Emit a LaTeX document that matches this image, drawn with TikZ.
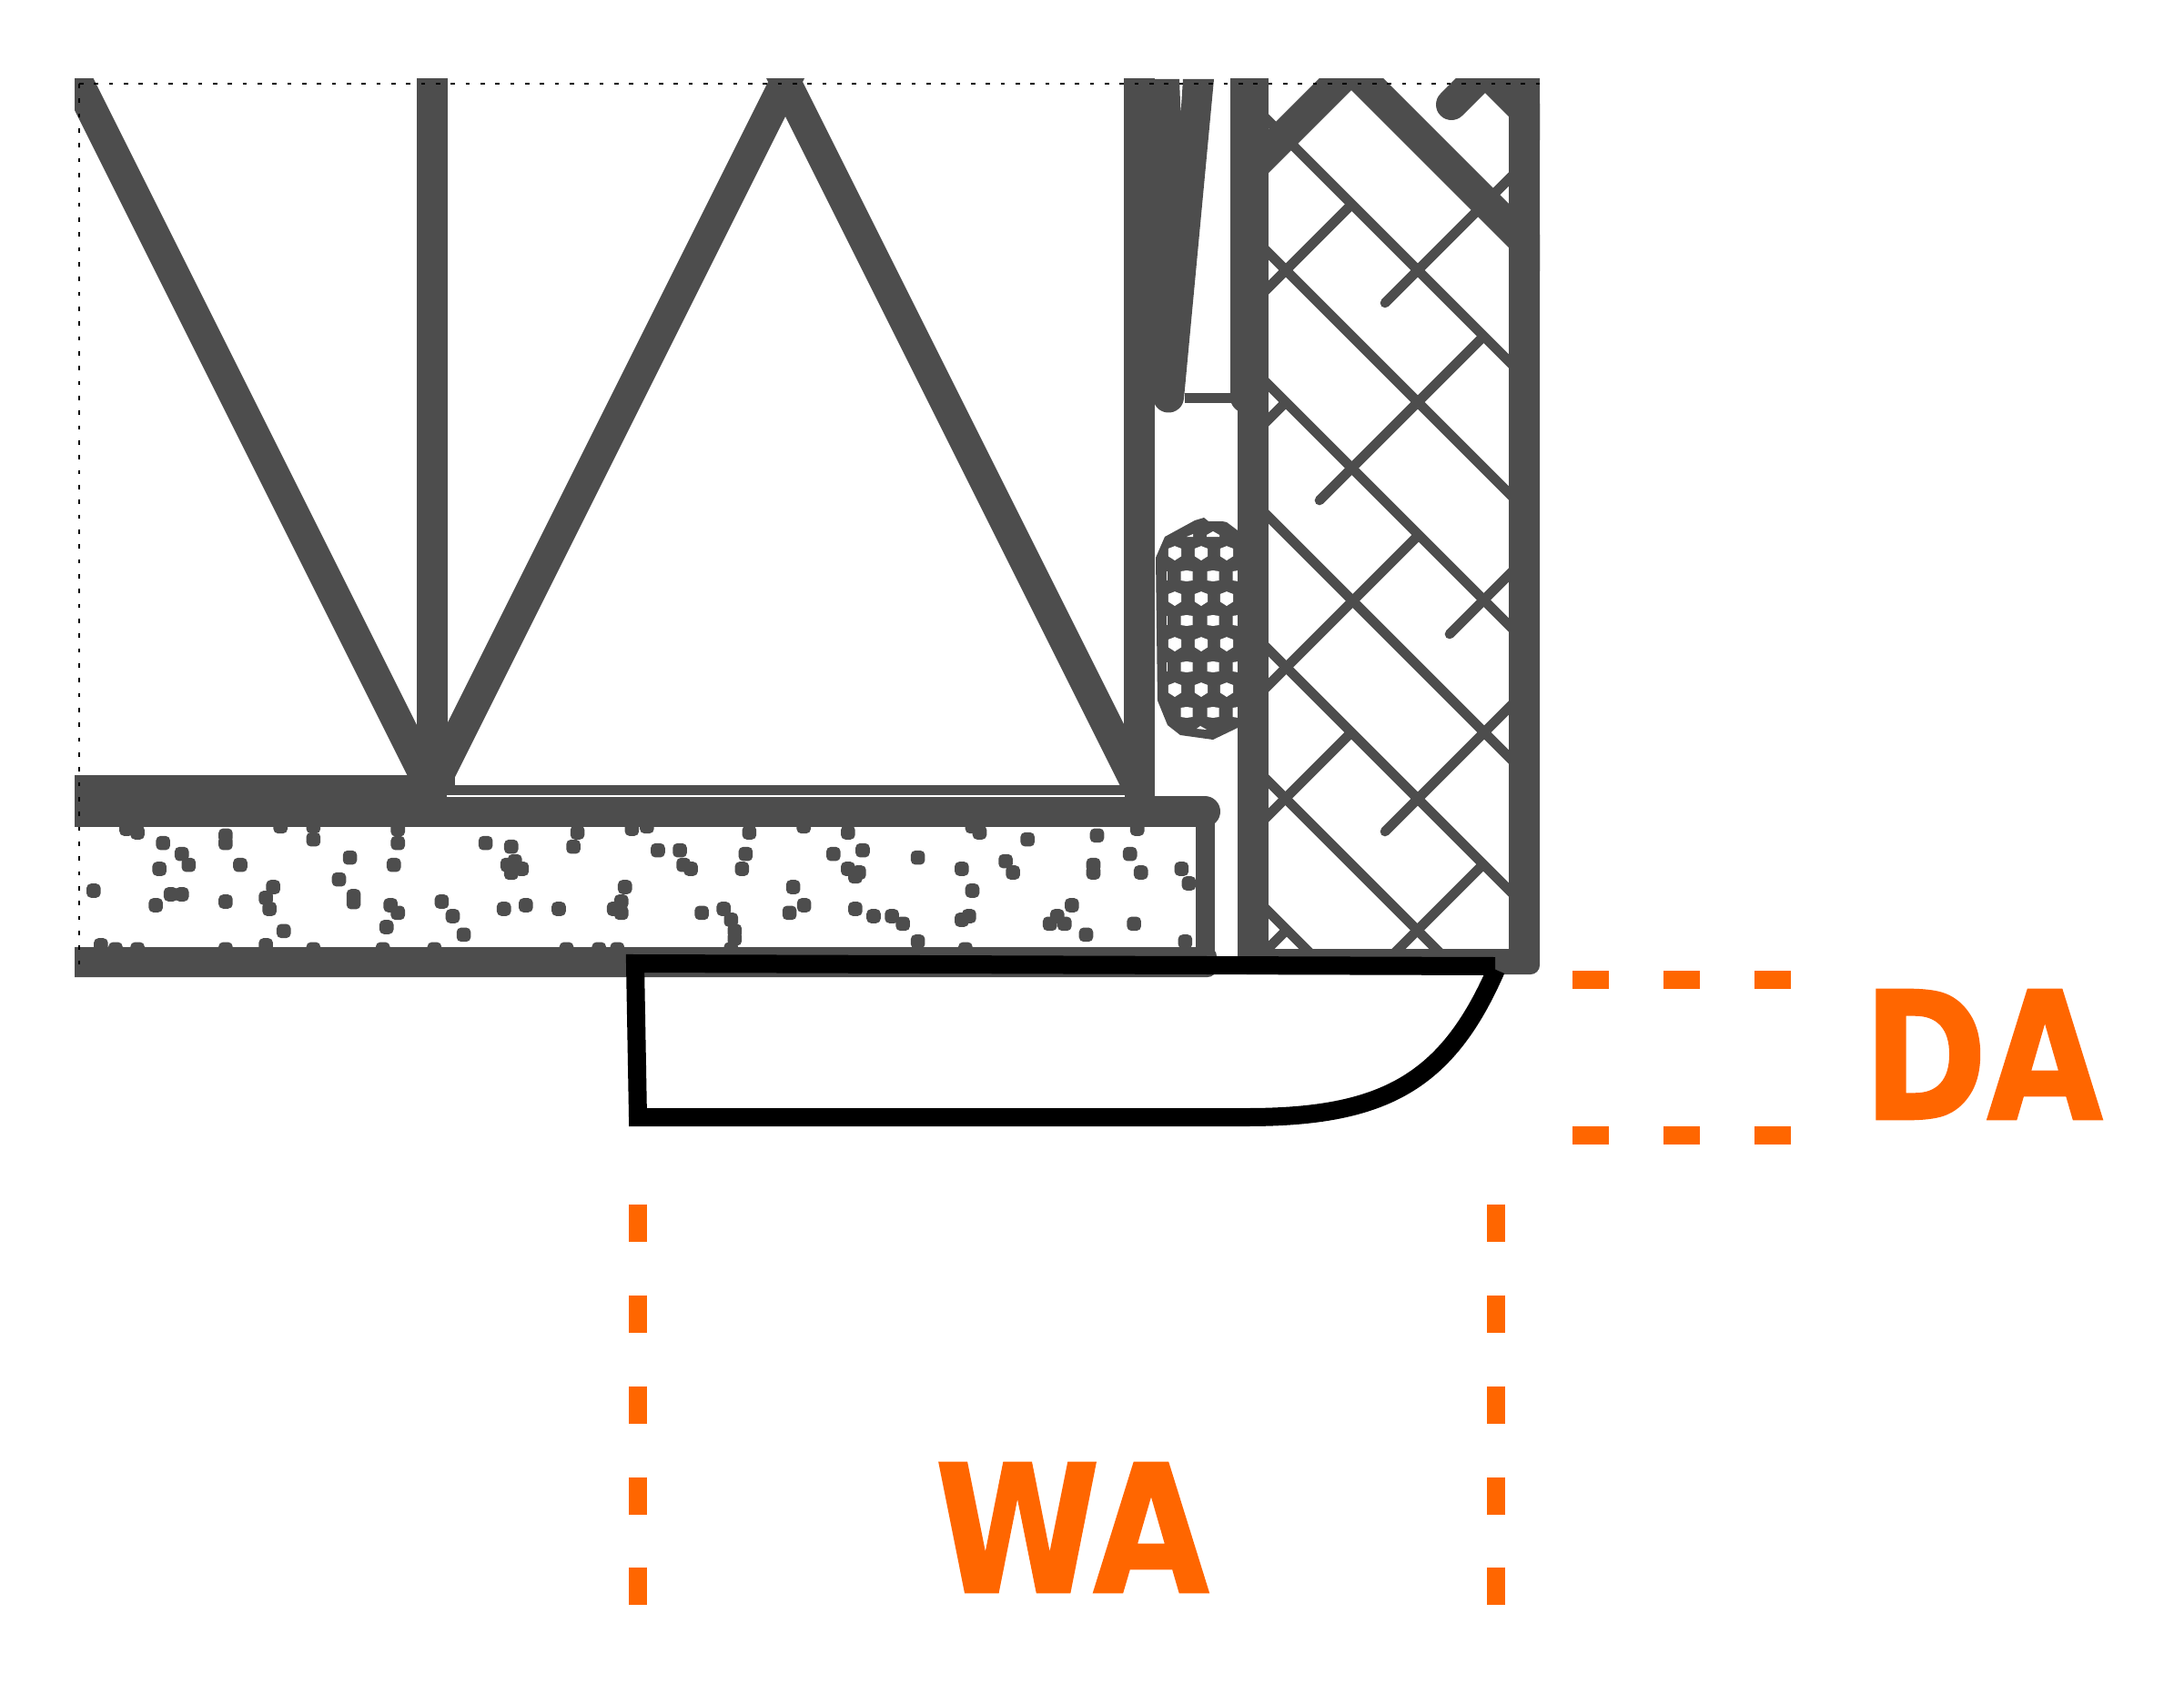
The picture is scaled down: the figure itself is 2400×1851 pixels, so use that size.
\documentclass[tikz,border=0pt]{standalone}
\usepackage{fontspec}
\newfontfamily\labfont[FakeStretch=0.84,BoldFeatures={FakeBold=1.2}]{DejaVu Sans}
\definecolor{gr}{HTML}{4D4D4D}
\definecolor{og}{HTML}{FF6600}
\tikzset{
  thick line/.style={draw=gr,line width=10.2pt},
  thin line/.style={draw=gr,line width=3.2pt,line cap=round},
  orange dash/.style={draw=og,line width=6pt},
  dot mark/.style={fill=gr,rounded corners=1.5pt},
  dotted rule/.style={draw=black,line width=0.85pt,dash pattern=on 1.4pt off 3.5pt},
  label text/.style={text=og,inner sep=0pt,font=\labfont\bfseries\fontsize{58.6pt}{58.6pt}\selectfont},
}
\begin{document}
\begin{tikzpicture}[x=0.3pt,y=-0.3pt]
\useasboundingbox (0,0) rectangle (2400,1851);
% insulation dots
\foreach \X/\Y in {177/213,204/225,267/260,313/296,330/332,258/345,421/235,421/260,457/332,556/205,637/248,637/205,727/308,700/380,736/435,736/455,845/215,845/260,835/332,1061/260,1124/272,1133/320,1115/332,1150/345,1124/358,1287/225,1277/272,96/417,286/429,313/429,249/465,421/453,538/405,520/441,529/477,564/550,817/537,827/465,845/490,953/453,980/501,1007/562,1106/477,1160/465,1241/477,114/597,150/610,204/610,421/610,520/597,637/610,808/610,935/610,1260/610,1340/610}{
  \pgfmathsetmacro\px{60+\X/2.24}\pgfmathsetmacro\py{840+\Y/3}
  \path[dot mark] (\px-7.8,\py-7.8) rectangle (\px+7.8,\py+7.8);
}
\foreach \X/\Y in {77/213,114/205,366/225,500/205,609/225,915/205,933/225,1051/248,1222/235,1321/213,141/284,195/284,204/332,222/345,357/296,348/345,573/296,645/284,609/345,636/357,627/370,781/308,889/345,997/320,1015/357,1213/332,1213/357,1303/296,1330/357,1430/345,1448/393,60/405,51/453,33/477,51/490,474/405,915/417,249/490,303/477,321/513,330/550,330/575,501/465,465/490,627/477,672/501,717/501,744/526,907/501,889/513,1160/465,1124/501,1106/526,1142/526,1195/562,1313/526,781/585,1439/585,41/610,321/610,898/610}{
  \pgfmathsetmacro\px{660+\X/2.24}\pgfmathsetmacro\py{840+\Y/3}
  \path[dot mark] (\px-7.8,\py-7.8) rectangle (\px+7.8,\py+7.8);
}
% grey construction, cut at the frame
\begin{scope}
\clip (82,87) rectangle (1692,1100);
% truss
\draw[thick line] (70.5,60) -- (470.5,860);
\draw[thick line] (475,60) -- (475,870);
\draw[thick line] (878,60) -- (478,860);
\draw[thick line] (848,60) -- (1248,860);
\fill[gr] (1235,60) -- (1269,60) -- (1269,876) -- (1235,876) -- cycle;
% wedge
\fill[gr] (1240,87) -- (1296,87) -- (1297.5,125) -- (1300,87) -- (1334,87) -- (1301,438)
  arc[start angle=5,end angle=175,radius=17,y=-1] -- (1262,87) -- cycle;
% chords
\fill[gr] (82,852) rectangle (500,909);
\fill[gr] (480,863) rectangle (1245,875);
\draw[gr,line width=10.2pt,line cap=round] (500,892) -- (1324,892);
\fill[white] (491,874.3) rectangle (1236,875.9);
\fill[gr] (1314,892) rectangle (1335,1060);
\fill[gr,rounded corners=3pt] (60,1041) -- (1337,1041) -- (1337,1074) -- (60,1074) -- cycle;
% sealant rod
\fill[gr] (1270,613) -- (1280,590) -- (1313,572) -- (1323,569) -- (1328,573) -- (1343,573) -- (1348,574) -- (1360,583) -- (1360,800) -- (1333,813) -- (1297,808) -- (1283,797) -- (1272,770) -- cycle;
\foreach \x in {1291,1320,1348}{\foreach \y in {608,658,708,758}{
  \fill[white] (\x-7.2,\y-5) -- (\x,\y-7.8) -- (\x+7.2,\y-5) -- (\x+7,\y+3.5) -- (\x,\y+8) -- (\x-7,\y+3.5) -- cycle;}}
\foreach \x in {1304,1333,1361}{\foreach \y in {633,682,733,783}{
  \fill[white] (\x-6.5,\y-5) -- (\x,\y-6) -- (\x+6.5,\y-5) -- (\x+6.5,\y+5) -- (\x,\y+6) -- (\x-6.5,\y+5) -- cycle;}}
\fill[white] (1326,588) -- (1333,584) -- (1340,588) -- (1340,590) -- (1326,590) -- cycle;
\fill[white] (1304,590) -- (1311,587) -- (1311,590) -- cycle;
\fill[white] (1315,801) -- (1319,798) -- (1326,802) -- cycle;
\foreach \y in {633,682,733}{\fill[white] (1282,\y-5) rectangle (1283,\y+5);}
% wall faces
\draw[gr,line width=10.2pt,line cap=round] (1369,60) -- (1369,437);
\fill[gr] (1360,60) rectangle (1394,1071);
\draw[gr,line width=3.3pt] (1302,437.5) -- (1355,437.5);
% hatch in the wall
\begin{scope}
\clip (1394,87) rectangle (1658,1043);
\foreach \c in {1261,1116,971,826,680,535,392}{
  \draw[thin line] (1380,1380-\c) -- (1680,1680-\c);}
\draw[thin line] (1385,325) -- (1485,225);
\draw[thin line] (1522,333) -- (1670,185);
\draw[thin line] (1385,470) -- (1413,442);
\draw[thin line] (1450,550) -- (1630,370);
\draw[thin line] (1385,762) -- (1558,589);
\draw[thin line] (1593,697) -- (1670,620);
\draw[thin line] (1385,905) -- (1485,805);
\draw[thin line] (1522,914) -- (1670,766);
\draw[thin line] (1385,1051) -- (1414,1022);
\draw[thin line] (1520,1060) -- (1630,950);
\end{scope}
\draw[thick line] (1370,190) -- (1480,80);
\draw[thick line] (1490,80) -- (1700,290);
\draw[thick line,line cap=round] (1595,115) -- (1650,60);
\draw[thick line] (1620,66) -- (1700,146);
\fill[gr] (1632,87) rectangle (1692,92);
\fill[gr,rounded corners=3pt] (1658,60) -- (1692,60) -- (1692,1071) -- (1360,1071) [sharp corners] -- (1360,1043) -- (1658,1043) -- cycle;
\end{scope}
% black profile
\draw[black,line width=6pt,line join=miter] (1643,1062) -- (698,1059) -- (701,1228) -- (1370,1228) .. controls (1520,1228) and (1590,1190) .. (1644,1066);
% orange guides
\foreach \x in {701,1643.5}{\foreach \y in {1323.5,1423.5,1523.5,1623.5,1722.5}{
  \draw[orange dash] (\x,\y) -- (\x,\y+41);}}
\foreach \y in {1077,1248}{\foreach \x in {1728,1828,1928}{
  \draw[orange dash] (\x,\y) -- (\x+40,\y);}}
% frame
\draw[dotted rule] (87,92) -- (1692,92);
\draw[dotted rule] (87,92) -- (87,1068);
\node[label text] (wa) at (1178,1679) {WA};
\node[label text] (da) at (2179,1159) {DA};
\end{tikzpicture}
\end{document}
